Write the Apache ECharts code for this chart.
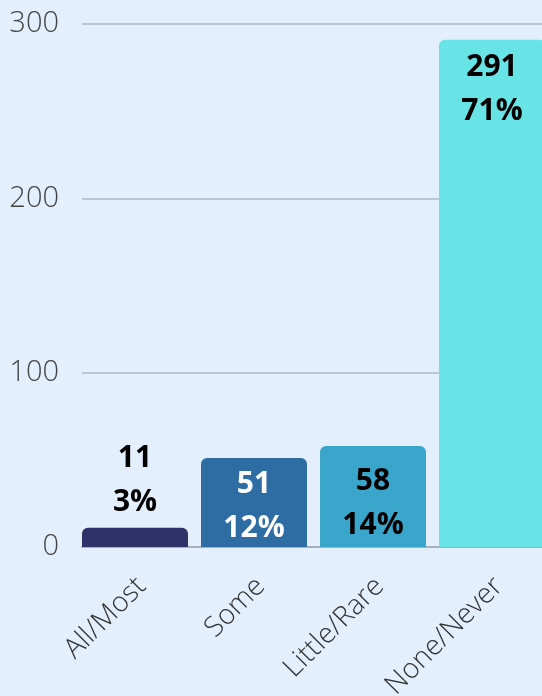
<!DOCTYPE html>
<html>
<head>
<meta charset="utf-8">
<script src="https://cdn.jsdelivr.net/npm/echarts@6/dist/echarts.min.js"></script>
<style>
    html, body {margin: 0; padding: 0; background: #e4effd;}
    #chart {width: 542px; height: 696px;}
</style>
</head>
<body>
<div id="chart"></div>
<script>
    var categories = ['All/Most', 'Some', 'Little/Rare', 'None/Never'];
    var counts = [11, 51, 58, 291];
    var percents = ['3%', '12%', '14%', '71%'];
    var barColors = ['#2f3268', '#2e6da4', '#3aa6cc', '#68e3e6'];
    var labelColors = ['#000', '#fff', '#000', '#000'];
    var labelGaps = [3, 4, 14, 6];
    var yTicks = {min: 0, max: 300, interval: 100};

    var chart = echarts.init(document.getElementById('chart'));

    var data = counts.map(function (v, i) {
        return {
            value: v,
            itemStyle: {color: barColors[i]},
            label: {
                position: v < 30 ? 'top' : 'insideTop',
                distance: labelGaps[i],
                color: labelColors[i],
                formatter: v + '\n' + percents[i]
            }
        };
    });

    chart.setOption({
        backgroundColor: '#e4effd',
        animation: false,
        textStyle: {fontFamily: 'Open Sans'},
        grid: {left: 82, top: 24, bottom: 149, width: 476, outerBoundsMode: 'none'},
        xAxis: {
            type: 'category',
            data: categories,
            axisTick: {show: false},
            axisLine: {lineStyle: {color: '#a9b0bb', width: 2}},
            axisLabel: {
                rotate: 45,
                margin: 35,
                fontSize: 28,
                fontWeight: 300,
                color: '#333',
                fontFamily: 'Open Sans'
            }
        },
        yAxis: {
            type: 'value',
            min: yTicks.min,
            max: yTicks.max,
            interval: yTicks.interval,
            axisLine: {show: false},
            axisTick: {show: false},
            splitLine: {lineStyle: {color: '#bcc5d2', width: 2}},
            axisLabel: {
                margin: 23,
                fontSize: 29,
                fontWeight: 300,
                color: '#444',
                fontFamily: 'Open Sans'
            }
        },
        series: [{
            type: 'bar',
            data: data,
            barWidth: 106,
            barGap: 0,
            itemStyle: {borderRadius: [6, 6, 0, 0]},
            label: {
                show: true,
                fontSize: 30,
                fontWeight: 'bold',
                lineHeight: 44,
                fontFamily: 'Open Sans'
            }
        }, {
            // empty spacer so the bars sit at the left of each category band
            type: 'bar',
            data: categories.map(function () { return '-'; }),
            barWidth: 13,
            silent: true
        }]
    });
</script>
</body>
</html>
